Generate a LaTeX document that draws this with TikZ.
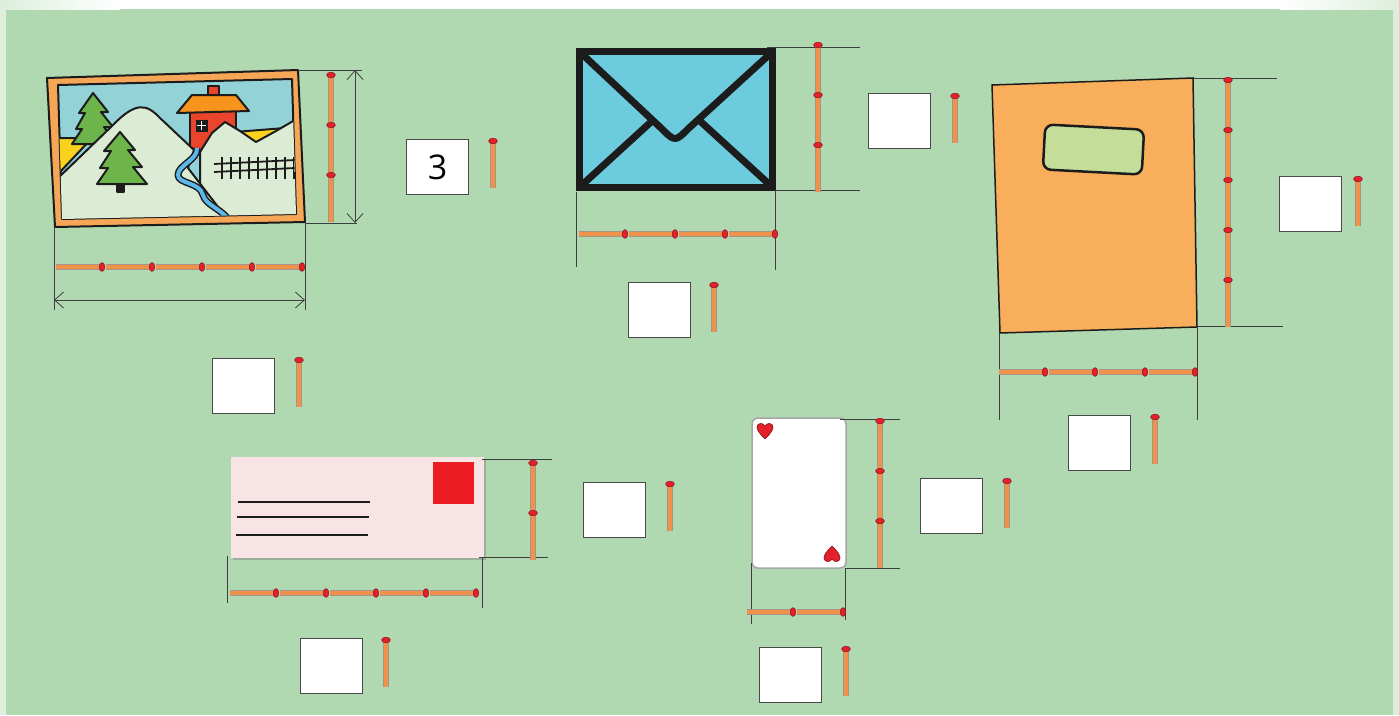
\documentclass[tikz,border=0pt]{standalone}
\usepackage{fontspec}
\setmainfont{Open Sans}
\usetikzlibrary{arrows.meta,positioning,shadows}

\definecolor{panel}{HTML}{B1D9B1}
\definecolor{pale}{HTML}{DDEEDD}
\definecolor{ink}{HTML}{1C1C1C}
\definecolor{stickorange}{HTML}{F0924A}
\definecolor{stickedge}{HTML}{8C7A6A}
\definecolor{headred}{HTML}{E3202B}
\definecolor{frameorange}{HTML}{F5A757}
\definecolor{sky}{HTML}{93D3D8}
\definecolor{snow}{HTML}{DCEBD3}
\definecolor{tree}{HTML}{6DB44B}
\definecolor{roof}{HTML}{F7941D}
\definecolor{house}{HTML}{E8452C}
\definecolor{sun}{HTML}{F8D21C}
\definecolor{river}{HTML}{5BB8E8}
\definecolor{mail}{HTML}{6CCBDC}
\definecolor{folder}{HTML}{F9AE5B}
\definecolor{window}{HTML}{C4DE9A}
\definecolor{letter}{HTML}{F9E4E5}
\definecolor{stamp}{HTML}{ED1C24}

% a row of matchsticks: start x, y, how many (heads to the right)
\newcommand\sticksH[3]{\foreach \k in {1,...,#3}{
  \draw[stick] ({#1+50*\k-49},#2) -- ({#1+50*\k-3},#2);
  \filldraw[head] ({#1+50*\k-3},#2) ellipse (2.8 and 4.4);}}
% a column of matchsticks: x, start y, how many (heads on top)
\newcommand\sticksV[3]{\foreach \k in {1,...,#3}{
  \draw[stick] (#1,{#2+50*\k-50}) -- (#1,{#2+50*\k-3});
  \filldraw[head] (#1,{#2+50*\k-50}) ellipse (4.4 and 2.8);}}

\begin{document}
\begin{tikzpicture}[
    x=1pt, y=-1pt,
    stick/.style={draw=stickedge!80, line width=1pt, double=stickorange, double distance=3.6pt},
    head/.style={fill=headred, draw=headred!60!black, line width=0.5pt},
    dim/.style={draw=ink!85, line width=0.8pt},
    measure/.style={dim, {Straight Barb[length=9pt,width=16pt]}-{Straight Barb[length=9pt,width=16pt]}},
    answer/.style={draw=ink!80, fill=white, line width=1pt, minimum width=62pt,
      minimum height=55pt, inner sep=0pt, font=\fontsize{34}{40}\selectfont},
    outline/.style={draw=ink, line width=2pt, line join=round},
    heart/.pic={\filldraw[fill=headred, draw=headred!60!black, line width=0.6pt]
      (0,8) .. controls (-6,2) and (-8,-1) .. (-8,-4) .. controls (-8,-8) and (-2,-9) .. (0,-5)
      .. controls (2,-9) and (8,-8) .. (8,-4) .. controls (8,-1) and (6,2) .. (0,8) -- cycle;},
  ]
  \useasboundingbox (0,0) rectangle (1399,715);

  % background panel
  \fill[panel] (0,0) rectangle (1399,715);
  \shade[left color=pale, right color=white] (0,0) rectangle (120,9);
  \fill[white] (120,0) rectangle (1280,9);
  \shade[left color=white, right color=pale] (1280,0) rectangle (1399,9);
  \fill[pale] (0,9) rectangle (6,715);
  \fill[pale] (1393,9) rectangle (1399,715);

  % framed picture
  \filldraw[outline, fill=frameorange] (47,78) -- (298,70) -- (305,222) -- (55,227) -- cycle;
  \filldraw[outline, fill=sky] (58,85) -- (292,79) -- (296,214) -- (62,219) -- cycle;
  \begin{scope}
    \clip (58,85) -- (292,79) -- (296,214) -- (62,219) -- cycle;
    \filldraw[outline, fill=sun] (56,138) -- (92,138) -- (60,172) -- cycle;
    \filldraw[outline, fill=sun] (222,133) -- (285,128) -- (262,143) -- (240,140) -- cycle;
    \filldraw[outline, fill=house] (208,86) rectangle (219,97);
    \filldraw[outline, fill=house] (190,108) rectangle (236,152);
    \filldraw[outline, fill=roof] (177,113) -- (192,95) -- (236,95) -- (249,111) -- cycle;
    \filldraw[ink] (196,120) rectangle (207,131);
    \draw[white, line width=0.8pt] (201.5,121) -- (201.5,130) (197,125.5) -- (206,125.5);
    \filldraw[outline, fill=snow] (200,152) -- (212,133) -- (225,122) -- (240,131)
      -- (256,142) -- (276,131) -- (300,117) -- (300,225) -- (200,225) -- cycle;
    \filldraw[outline, fill=tree] (93,93) -- (108,112) -- (101,112) -- (113,127) -- (104,127)
      -- (116,144) -- (72,144) -- (82,129) -- (76,129) -- (85,113) -- (79,113) -- cycle;
    \filldraw[outline, fill=snow] (56,180) -- (112,126) .. controls (135,102) and (146,103) .. (160,118)
      -- (194,150) -- (188,168) -- (232,225) -- (56,225) -- cycle;
    \filldraw[outline, fill=ink] (117,182) rectangle (124,192);
    \filldraw[outline, fill=tree] (120,132) -- (135,150) -- (128,150) -- (142,167) -- (133,167)
      -- (147,184) -- (97,184) -- (108,168) -- (100,168) -- (111,151) -- (104,151) -- cycle;
    \draw[ink, line width=7pt, line join=round] (197,148) .. controls (198,160) and (178,165) .. (178,175)
      .. controls (178,184) and (200,182) .. (203,195) .. controls (206,206) and (222,208) .. (232,224);
    \draw[river, line width=4pt, line join=round] (197,148) .. controls (198,160) and (178,165) .. (178,175)
      .. controls (178,184) and (200,182) .. (203,195) .. controls (206,206) and (222,208) .. (232,224);
    \draw[ink, line width=1.8pt] (214,164) -- (295,160) (214,172) -- (295,168);
    \foreach \p in {222,231,...,294}
      \draw[ink, line width=1.6pt] (\p,157) -- (\p,179);
  \end{scope}

  \draw[dim] (298,70) -- (362,70);
  \draw[dim] (305,223) -- (357,223);
  \draw[measure] (355,70) -- (355,223);
  \draw[dim] (54,227) -- (54,310);
  \draw[dim] (305,222) -- (305,310);
  \draw[measure] (54,300) -- (305,300);
  \sticksV{331}{75}{3}
  \sticksH{55}{267}{5}
  \node[answer] (picH) at (437.5,167) {3};
  \sticksV{493}{141}{1}
  \node[answer] (picW) at (243.5,385.5) {};
  \sticksV{299}{360}{1}

  % envelope
  \node[draw=ink, line width=7pt, fill=mail, minimum width=193pt, minimum height=136pt,
    inner sep=0pt, outer sep=0pt, anchor=north west] (env) at (579.5,51.5) {};
  \begin{scope}
    \clip (583,55) rectangle (769,184);
    \draw[ink, line width=7pt, line join=round] (582,54) -- (661,128) .. controls (675,142) .. (689,128) -- (770,54);
    \draw[ink, line width=7pt] (582,185) -- (652,121) (770,185) -- (700,121);
  \end{scope}
  \draw[dim] (767,47) -- (860,47);
  \draw[dim] (775,190) -- (860,190);
  \draw[dim] (576,192) -- (576,267);
  \draw[dim] (775,190) -- (775,270);
  \sticksV{818}{45}{3}
  \sticksH{578}{234}{4}
  \node[answer] (envH) at (899,121) {};
  \sticksV{955}{96}{1}
  \node[answer] (envW) at (659,310) {};
  \sticksV{714}{285}{1}

  % notebook
  \filldraw[draw=ink, line width=1.5pt, fill=folder] (992,85) -- (1193,78) -- (1197,327) -- (1000,333) -- cycle;
  \filldraw[draw=ink, line width=2.5pt, fill=window, rounded corners=8pt, rotate around={-3:(1093,149)}]
    (1044,127) rectangle (1143,172);
  \draw[dim] (1193,78) -- (1277,78);
  \draw[dim] (1197,326) -- (1283,326);
  \draw[dim] (999,333) -- (999,420);
  \draw[dim] (1197,326) -- (1197,420);
  \sticksV{1228}{80}{5}
  \sticksH{998}{372}{4}
  \node[answer] (bookH) at (1310,204) {};
  \sticksV{1358}{179}{1}
  \node[answer] (bookW) at (1099,442.5) {};
  \sticksV{1155}{417}{1}

  % letter
  \node[fill=letter, minimum width=253pt, minimum height=101pt, inner sep=0pt, outer sep=0pt,
    anchor=north west, drop shadow={opacity=0.45, shadow xshift=2pt, shadow yshift=-2pt}] (letter) at (231,457) {};
  \fill[stamp] (433,462) rectangle (474,504);
  \draw[ink, line width=2.6pt] (238,502) -- (370,502) (237,517) -- (369,517) (236,535) -- (368,535);
  \draw[dim] (482,459) -- (552,459);
  \draw[dim] (479,557) -- (548,557);
  \draw[dim] (227,556) -- (227,603);
  \draw[dim] (482,557) -- (482,608);
  \sticksV{533}{463}{2}
  \sticksH{229}{593}{5}
  \node[answer] (letH) at (614.5,509.5) {};
  \sticksV{670}{484}{1}
  \node[answer] (letW) at (331.5,665.5) {};
  \sticksV{386}{640}{1}

  % playing card
  \node[fill=white, draw=gray!70, line width=1.5pt, rounded corners=6pt, minimum width=94pt,
    minimum height=150pt, inner sep=0pt, outer sep=0pt, anchor=north west] (card) at (752,418) {};
  \pic at (765,431) {heart};
  \pic[rotate=180] at (832,554) {heart};
  \draw[dim] (840,419) -- (900,419);
  \draw[dim] (845,568) -- (900,568);
  \draw[dim] (751,563) -- (751,624);
  \draw[dim] (845,568) -- (845,620);
  \sticksV{880}{421}{3}
  \sticksH{746}{612}{2}
  \node[answer] (cardH) at (951.5,506) {};
  \sticksV{1007}{481}{1}
  \node[answer] (cardW) at (790.5,674.5) {};
  \sticksV{846}{649}{1}
\end{tikzpicture}
\end{document}
